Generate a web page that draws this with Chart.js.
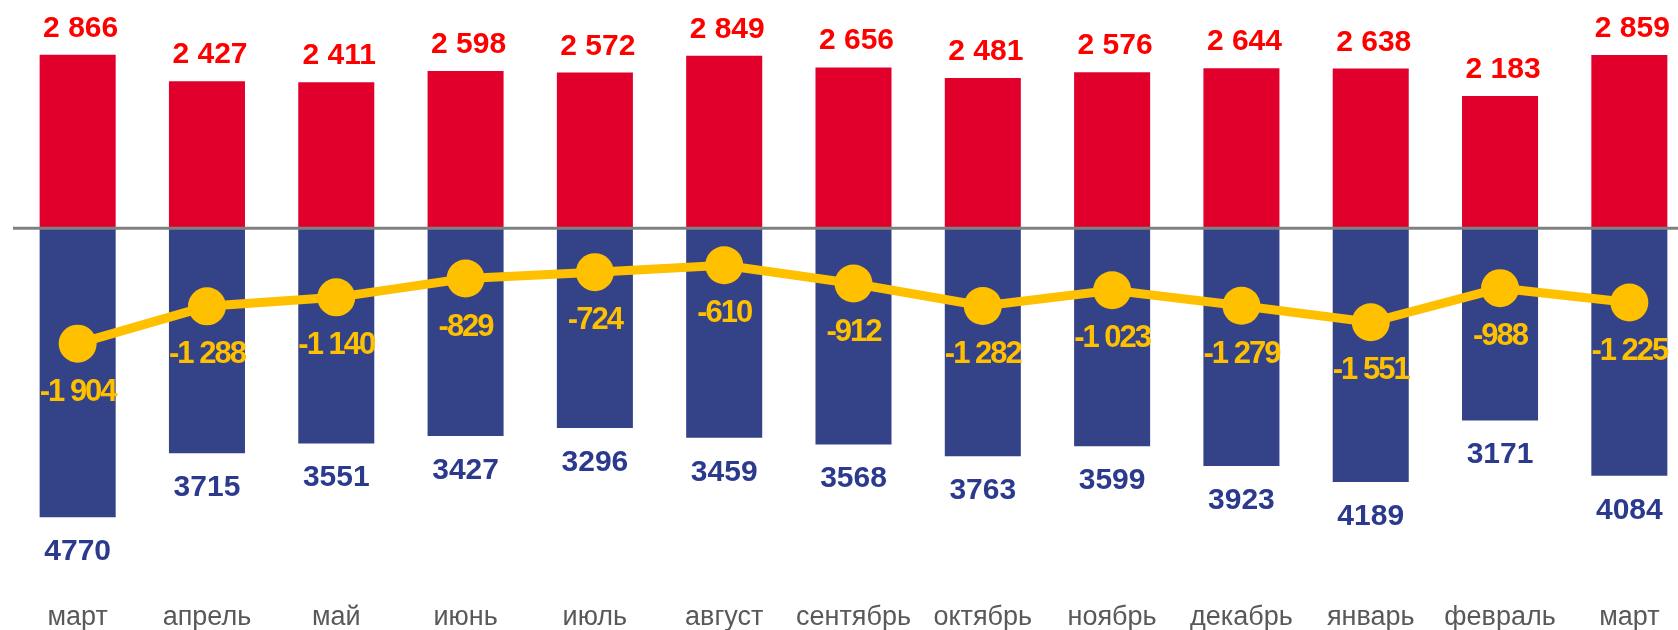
<!DOCTYPE html>
<html lang="ru">
<head>
<meta charset="utf-8">
<title>Экспорт, импорт и сальдо</title>
<script src="https://cdn.jsdelivr.net/npm/chart.js"></script>
<style>
  html, body { margin: 0; padding: 0; background: #ffffff; overflow: hidden; }
  #wrap { position: relative; width: 1710px; height: 630px; }
</style>
</head>
<body>
<div id="wrap"><canvas id="balanceChart"></canvas></div>
<script>
const months = ["март", "апрель", "май", "июнь", "июль", "август", "сентябрь",
  "октябрь", "ноябрь", "декабрь", "январь", "февраль", "март"];
const exportValues = [2866, 2427, 2411, 2598, 2572, 2849, 2656, 2481, 2576, 2644, 2638, 2183, 2859];
const importValues = [4770, 3715, 3551, 3427, 3296, 3459, 3568, 3763, 3599, 3923, 4189, 3171, 4084];
const balanceValues = [-1904, -1288, -1140, -829, -724, -610, -912, -1282, -1023, -1279, -1551, -988, -1225];

const FONT = "'Liberation Sans', Arial, sans-serif";

function spaced(v) {
  const s = Math.abs(v).toString().replace(/\B(?=(\d{3})+(?!\d))/g, " ");
  return (v < 0 ? "-" : "") + s;
}

// zero line + value labels
const labelsPlugin = {
  id: "valueLabels",
  afterDatasetsDraw(chart) {
    const ctx = chart.ctx;
    const area = chart.chartArea;
    const y0 = chart.scales.y.getPixelForValue(0);

    ctx.save();
    ctx.strokeStyle = "#808080";
    ctx.lineWidth = 3;
    ctx.beginPath();
    ctx.moveTo(area.left, y0);
    ctx.lineTo(area.right, y0);
    ctx.stroke();

    ctx.textAlign = "center";
    ctx.textBaseline = "alphabetic";

    ctx.font = "bold 30px " + FONT;
    ctx.fillStyle = "#FF0000";
    chart.getDatasetMeta(0).data.forEach((bar, i) => {
      ctx.fillText(spaced(exportValues[i]), bar.x + 3, bar.y - 18);
    });

    ctx.fillStyle = "#2B3A8C";
    chart.getDatasetMeta(1).data.forEach((bar, i) => {
      ctx.fillText(String(importValues[i]), bar.x, bar.y + 43);
    });

    ctx.font = "bold 31px " + FONT;
    ctx.fillStyle = "#FFC000";
    ctx.letterSpacing = "-2px";
    chart.getDatasetMeta(2).data.forEach((pt, i) => {
      ctx.fillText(spaced(balanceValues[i]), pt.x, pt.y + 57);
    });
    ctx.restore();
  },
};

document.addEventListener("DOMContentLoaded", function () {
  const canvas = document.getElementById("balanceChart");

  new Chart(canvas.getContext("2d"), {
    data: {
      labels: months,
      datasets: [
        {
          type: "bar",
          label: "экспорт",
          data: exportValues,
          backgroundColor: "#E0002B",
          grouped: false,
          order: 2,
        },
        {
          type: "bar",
          label: "импорт",
          data: importValues.map((v) => -v),
          backgroundColor: "#344387",
          grouped: false,
          order: 2,
        },
        {
          type: "line",
          label: "сальдо",
          data: balanceValues,
          borderColor: "#FFC000",
          backgroundColor: "#FFC000",
          borderWidth: 9,
          pointRadius: 19,
          pointBorderWidth: 0,
          tension: 0,
          order: 0,
        },
      ],
    },
    options: {
      responsive: true,
      maintainAspectRatio: false,
      animation: false,
      layout: {
        autoPadding: false,
        padding: { left: 13, right: 16, top: 0, bottom: 0 },
      },
      datasets: {
        bar: { categoryPercentage: 1, barPercentage: 0.588 },
      },
      plugins: {
        legend: { display: false },
        tooltip: { enabled: false },
      },
      scales: {
        x: {
          grid: { display: false },
          border: { display: false },
          ticks: {
            color: "#595959",
            font: { family: FONT, size: 27 },
            padding: 13,
            maxRotation: 0,
            autoSkip: false,
          },
          afterFit(scale) {
            scale.height = 50;
          },
        },
        y: {
          display: false,
          min: -5806,
          max: 3769,
        },
      },
    },
    plugins: [labelsPlugin],
  });
});
</script>
</body>
</html>
